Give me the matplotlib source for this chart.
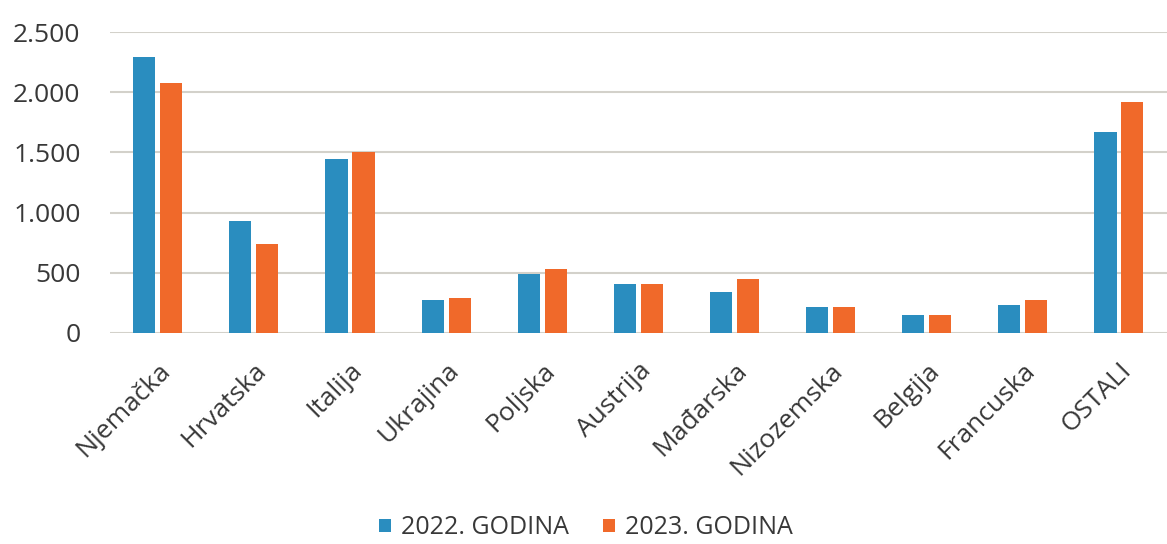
import numpy as np
import matplotlib.pyplot as plt

# ==========================================
# DATA
# ==========================================
COUNTRIES = ['Njemačka', 'Hrvatska', 'Italija', 'Ukrajina', 'Poljska', 'Austrija',
             'Mađarska', 'Nizozemska', 'Belgija', 'Francuska', 'OSTALI']
VALUES_2022 = [2290, 930, 1443, 274, 487, 404, 340, 213, 145, 233, 1670]
VALUES_2023 = [2080, 737, 1506, 293, 529, 404, 446, 213, 145, 274, 1922]
Y_TICKS = [0, 500, 1000, 1500, 2000, 2500]
Y_TICK_LABELS = ['0', '500', '1.000', '1.500', '2.000', '2.500']
SERIES_NAMES = ['2022. GODINA', '2023. GODINA']
# ==========================================

BLUE = '#2A8DBF'
ORANGE = '#F0692A'
GRID = '#D3D1CA'
TEXT = '#383838'

plt.rcParams['font.family'] = ['Open Sans', 'DejaVu Sans']

fig = plt.figure(figsize=(11.67, 5.44), dpi=100)
ax = fig.add_axes([0.094, 0.388, 0.906, 0.553])

x = np.arange(len(COUNTRIES))
width = 0.23
gap = 0.05
ax.bar(x - (width + gap) / 2, VALUES_2022, width, color=BLUE, label=SERIES_NAMES[0], zorder=3)
ax.bar(x + (width + gap) / 2, VALUES_2023, width, color=ORANGE, label=SERIES_NAMES[1], zorder=3)

ax.set_xlim(-0.5, len(COUNTRIES) - 0.5)
ax.set_ylim(0, 2500)
ax.set_yticks(Y_TICKS)
ax.set_yticklabels(Y_TICK_LABELS)
ax.yaxis.grid(True, color=GRID, linewidth=1.5, zorder=0)
ax.set_axisbelow(True)

for s in ax.spines.values():
    s.set_visible(False)

ax.tick_params(axis='both', length=0, colors=TEXT, labelsize=19)
ax.tick_params(axis='y', pad=21)
ax.set_xticks(x)
ax.set_xticklabels(COUNTRIES, rotation=45, ha='right', rotation_mode='anchor')
ax.tick_params(axis='x', pad=18)

leg = fig.legend(loc='lower center', bbox_to_anchor=(0.502, -0.03), ncol=2, frameon=False,
                 fontsize=18, handlelength=0.45, handleheight=0.45, handletextpad=0.4,
                 columnspacing=1.4, borderaxespad=0.4)
for t in leg.get_texts():
    t.set_color(TEXT)

fig.savefig('out.png', dpi=100, facecolor='white')
